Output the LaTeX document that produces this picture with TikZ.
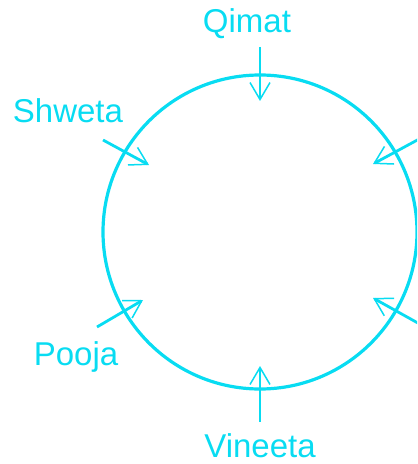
\documentclass[tikz,border=0pt]{standalone}
\usepackage{fontspec}
\setmainfont{Liberation Sans}
\usetikzlibrary{arrows.meta}
\definecolor{cy}{RGB}{8,220,242}
\begin{document}
\begin{tikzpicture}[x=1bp,y=-1bp,
  lbl/.style={text=cy,inner sep=0pt,anchor=base,font=\fontsize{33bp}{40bp}\selectfont},
  arr/.style={draw=cy,line width=2.8bp,-{Straight Barb[length=17bp,width=20bp,line width=1.5bp]}},
  ring/.style={draw=cy,line width=3.2bp}]
\useasboundingbox (0,0) rectangle (417,464);
\clip (0,0) rectangle (417,464);
\node[ring,circle,minimum size=314bp,inner sep=0pt] (c) at (260,232) {};
\node[lbl] (q) at (247,33) {Qimat};
\node[lbl] (s) at (68,123) {Shweta};
\node[lbl] (p) at (76,365) {Pooja};
\node[lbl] (v) at (260,457) {Vineeta};
\coordinate (qa) at (260,47);  \coordinate (qb) at (260,101);
\coordinate (sa) at (103,140); \coordinate (sb) at (149,165);
\coordinate (pa) at (97,327);  \coordinate (pb) at (143,300);
\coordinate (va) at (260,422); \coordinate (vb) at (260,366);
\coordinate (ra) at (434,131); \coordinate (rb) at (373,164);
\coordinate (ta) at (434,332); \coordinate (tb) at (373,298);
\draw[arr] (qa) -- (qb);
\draw[arr] (sa) -- (sb);
\draw[arr] (pa) -- (pb);
\draw[arr] (va) -- (vb);
\draw[arr] (ra) -- (rb);
\draw[arr] (ta) -- (tb);
\end{tikzpicture}
\end{document}
